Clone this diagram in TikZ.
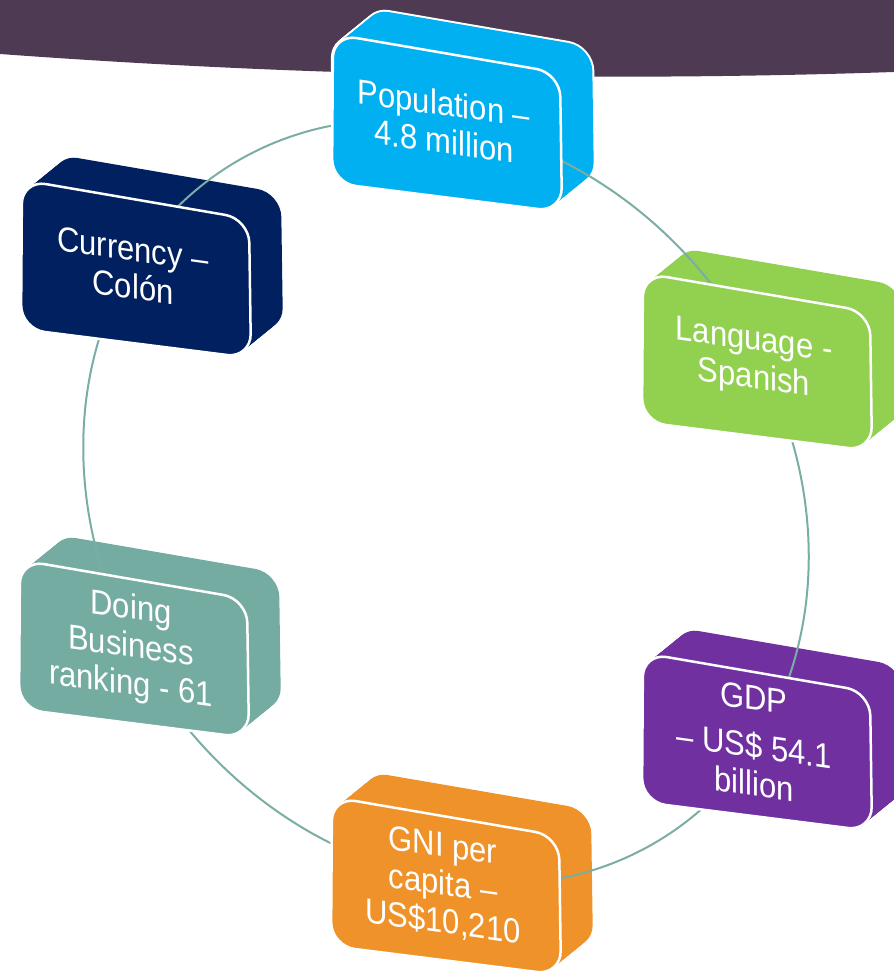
\documentclass[tikz,border=0pt]{standalone}
\usepackage{fontspec}
\setmainfont{Liberation Sans}
\usepackage{tikz}
\definecolor{bandpurple}{HTML}{4E3A52}
\definecolor{popblue}{HTML}{00B0F0}
\definecolor{langgreen}{HTML}{92D050}
\definecolor{gdppurple}{HTML}{7030A0}
\definecolor{gniorange}{HTML}{F0922A}
\definecolor{dbteal}{HTML}{75ACA2}
\definecolor{curnavy}{HTML}{002060}
\definecolor{ringteal}{HTML}{7AADA4}

% one face of a block: #1 = path options, #2 = top-left corner
\newcommand{\blockface}[2]{%
  \path[#1, rounded corners=24pt] (#2) ++(-0.5,-74.5) -- ++(0.5,74.5)
    -- ++(227,-39) -- ++(2,-139) -- ++(-230,29) -- cycle;}

\begin{document}
\begin{tikzpicture}[
    x=1pt, y=1pt,
    every node/.style={font=\fontsize{31}{34}\selectfont, text=white},
    facetext/.style={align=center, yslant=-0.14, yscale=1.12, inner sep=0pt},
    ring/.style={ringteal, line width=2pt}
]
    \useasboundingbox (0,0) rectangle (894,972);
    \clip (0,0) rectangle (894,972);

    % Dark band along the top
    \fill[bandpurple] (0,972) -- (894,972) -- (894,900)
        .. controls (600,890) and (300,896) .. (0,918) -- cycle;

    % Back slabs of the blocks (white rim first)
    \foreach \x/\y/\col in {333/938/popblue, 643/699/langgreen, 643/319/gdppurple,
                            332/175/gniorange, 20/412/dbteal, 22/792/curnavy} {
        \foreach \k in {0,...,20}
            \blockface{draw=white, line width=4pt}{\x+1.6*\k,\y+1.3*\k};
        \foreach \k in {0,...,20}
            \blockface{fill=\col}{\x+1.6*\k,\y+1.3*\k};
    }

    % Ring through the blocks
    \draw[ring, rotate around={125:(446,470)}] (446,470) ellipse [x radius=400, y radius=343];

    % Front faces and labels
    \foreach \x/\y/\col/\n/\txt in {
        333/938/popblue/pop/{Population –\\4.8 million},
        643/699/langgreen/lang/{Language -\\Spanish},
        643/319/gdppurple/gdp/{GDP\\[9pt]– US\$ 54.1\\billion},
        332/175/gniorange/gni/{GNI per\\capita –\\US\$10,210},
        20/412/dbteal/doing/{Doing\\Business\\ranking - 61},
        22/792/curnavy/cur/{Currency –\\Colón}} {
        \blockface{fill=\col, draw=white, line width=2.5pt}{\x,\y};
        \node[facetext] (\n) at (\x+111,\y-88) {\txt};
    }
\end{tikzpicture}
\end{document}
